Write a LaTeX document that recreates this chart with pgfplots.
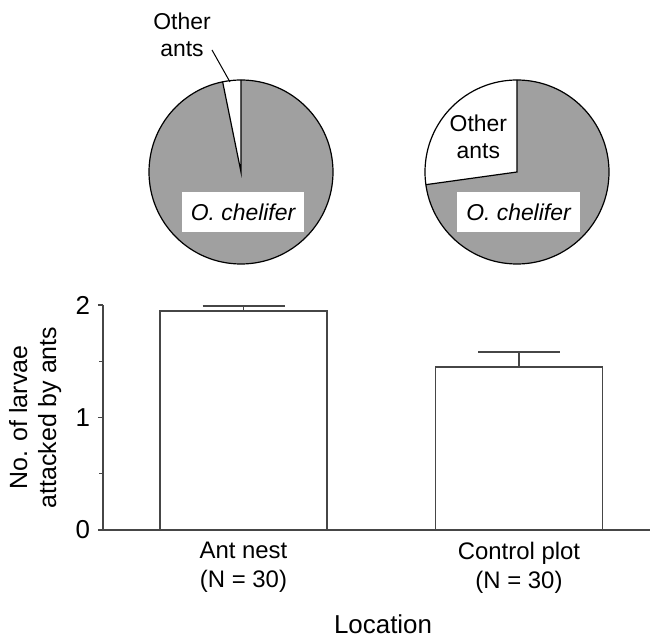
\documentclass[border=0pt]{standalone}
\usepackage{pgfplots}
\pgfplotsset{compat=1.18}
\usepackage{fontspec}
\setmainfont{Liberation Sans}
\definecolor{piegray}{RGB}{160,160,160}
\definecolor{linegray}{RGB}{70,70,70}
% pie data (percent of larvae attacked by other ants)
\def\pieOneOther{3.2}
\def\pieTwoOther{27.2}
\begin{document}
\begin{tikzpicture}[font=\fontsize{11.5}{14.5}\selectfont]
\useasboundingbox (0,0) rectangle (326.5bp,319.5bp);
% ---- bar chart ----
\begin{axis}[
  at={(51.5bp,54.5bp)}, anchor=origin,
  scale only axis, width=273.5bp, height=112.5bp,
  xmin=0.49, xmax=2.4755, ymin=0, ymax=2,
  axis lines=left, axis line style={-, linegray, line width=0.7bp},
  ytick={0,1,2}, minor y tick num=1,
  tick align=outside, major tick length=2.5bp, minor tick length=1.8bp,
  every tick/.style={linegray, line width=0.6bp},
  xtick={1,2}, xticklabels={{Ant nest\\(N = 30)},{Control plot\\(N = 30)}},
  xticklabel style={align=center, yshift=0bp, font=\fontsize{12}{14.5}\selectfont},
  major x tick style={draw=none},
  /pgf/number format/assume math mode=true,
  yticklabel style={xshift=-0.5bp, font=\fontsize{13}{15}\selectfont},
  clip=false,
  ylabel={No. of larvae\\attacked by ants},
  every axis y label/.style={at={(axis description cs:-0.124,0.5)}, rotate=90, anchor=center, align=center, font=\fontsize{12.5}{14.5}\selectfont},
  xlabel={Location},
  every axis x label/.style={at={(axis description cs:0.512,-0.418)}, anchor=center, inner sep=0pt, font=\fontsize{13}{15}\selectfont},
]
\addplot[ybar, bar width=83.5bp, bar shift=0pt, fill=white, draw=linegray, line width=0.7bp,
  error bars/.cd, y dir=plus, y explicit,
  error bar style={linegray, line width=0.7bp},
  error mark options={linegray, line width=0.7bp, mark size=20.5bp, rotate=90}]
  coordinates {(1,1.947) +- (0,0.045) (2,1.449) +- (0,0.133)};
\end{axis}
% ---- pie 1: ant nest ----
\begin{axis}[
  at={(120.5bp,233.5bp)}, anchor=center,
  scale only axis, width=92bp, height=92bp,
  xmin=-1, xmax=1, ymin=-1, ymax=1, hide axis, clip=false]
\pgfmathsetmacro{\aend}{90+3.6*\pieOneOther}
\fill[piegray] (axis cs:0,0) -- (axis cs:0,1) arc[start angle=90, end angle=\aend-360, radius=46bp] -- cycle;
\fill[white] (axis cs:0,0) -- (axis cs:0,1) arc[start angle=90, end angle=\aend, radius=46bp] -- cycle;
\draw[black, line width=0.6bp] (axis cs:0,0) circle[radius=46bp];
\draw[black, line width=0.6bp] (axis cs:0,1) -- (axis cs:0,0) -- ({axis cs:{cos(\aend)},{sin(\aend)}});
\node[fill=white, minimum width=61bp, minimum height=20bp, inner sep=0pt, font=\fontsize{11.5}{14}\selectfont\itshape] at (axis cs:0.022,-0.435) {O. chelifer};
\end{axis}
\node[align=center, font=\fontsize{11.5}{13.5}\selectfont] at (91bp,302bp) {Other\\ants};
\draw[black, line width=0.5bp] (106bp,294.5bp) -- (115bp,278.5bp);
% ---- pie 2: control plot ----
\begin{axis}[
  at={(258.5bp,233.5bp)}, anchor=center,
  scale only axis, width=92bp, height=92bp,
  xmin=-1, xmax=1, ymin=-1, ymax=1, hide axis, clip=false]
\pgfmathsetmacro{\bend}{90+3.6*\pieTwoOther}
\fill[piegray] (axis cs:0,0) -- (axis cs:0,1) arc[start angle=90, end angle=\bend-360, radius=46bp] -- cycle;
\fill[white] (axis cs:0,0) -- (axis cs:0,1) arc[start angle=90, end angle=\bend, radius=46bp] -- cycle;
\draw[black, line width=0.6bp] (axis cs:0,0) circle[radius=46bp];
\draw[black, line width=0.6bp] (axis cs:0,1) -- (axis cs:0,0) -- ({axis cs:{cos(\bend)},{sin(\bend)}});
\node[fill=white, minimum width=61.5bp, minimum height=20bp, inner sep=0pt, font=\fontsize{11.5}{14}\selectfont\itshape] at (axis cs:0.016,-0.435) {O. chelifer};
\node[align=center, font=\fontsize{11.5}{13.5}\selectfont] at (axis cs:-0.42,0.38) {Other\\ants};
\end{axis}
\end{tikzpicture}
\end{document}
